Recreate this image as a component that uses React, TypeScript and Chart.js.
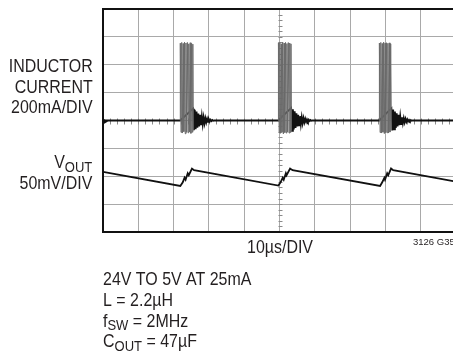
import { useEffect, useRef } from "react";
import { Chart, registerables } from "chart.js";

Chart.register(...registerables);

// ---- axes (oscilloscope graticule: 10 div x 8 div) ----
const timeMinUs = 0;
const timeMaxUs = 100; // 10µs/DIV
const timeStepUs = 10;
const currentMinMA = -800; // 200mA/DIV
const currentMaxMA = 800;
const currentStepMA = 200;
const voutMinMV = -100; // 50mV/DIV (AC coupled)
const voutMaxMV = 300;

// ---- inductor current: baseline + decaying ringing after each burst (µs, mA) ----
const ringTimeUs = [
  0, 21.85,
  25.5, 25.75, 26.0, 26.25, 26.5, 26.75, 27.0, 27.25, 27.5, 27.75, 28.0, 28.25, 28.5, 28.75,
  29.0, 29.25, 29.5, 29.75, 30.0, 30.25, 30.5, 30.75, 31.0, 31.25, 31.5, 31.75,
  49.65,
  53.3, 53.55, 53.8, 54.05, 54.3, 54.55, 54.8, 55.05, 55.3, 55.55, 55.8, 56.05, 56.3, 56.55,
  56.8, 57.05, 57.3, 57.55, 57.8, 58.05, 58.3, 58.55, 58.8, 59.05, 59.3, 59.55,
  78.25,
  81.7, 81.95, 82.2, 82.45, 82.7, 82.95, 83.2, 83.45, 83.7, 83.95, 84.2, 84.45, 84.7, 84.95,
  85.2, 85.45, 85.7, 85.95, 86.2, 86.45, 86.7, 86.95, 87.2, 87.45, 87.7, 87.95,
  100,
];
const ringCurrentMA = [
  0, 0,
  85, -70, 76, -62, 64, -52, 50, -42, 40, -34, 30, -27, 23, -20,
  16, -14, 12, -10, 8, -7, 5, -4, 3, -2, 1, 0,
  0,
  90, -74, 80, -64, 66, -54, 52, -43, 41, -35, 31, -27, 24, -20,
  17, -14, 12, -10, 8, -7, 5, -4, 3, -2, 1, 0,
  0,
  88, -72, 78, -63, 65, -53, 51, -43, 40, -34, 30, -26, 23, -19,
  16, -14, 12, -10, 8, -6, 5, -4, 3, -2, 1, 0,
  0,
];

// ---- inductor current: switching bursts (µs, mA), null separates bursts ----
const burstTimeUs = [
  21.85, 21.9, 22.1, 22.3, 22.5, 22.7, 22.9, 23.1, 23.3, 23.5, 23.7, 23.9, 24.1, 24.3,
  24.5, 24.7, 24.9, 25.1, 25.3, 25.45, 25.55,
  null,
  49.65, 49.7, 49.9, 50.1, 50.3, 50.5, 50.7, 50.9, 51.1, 51.3, 51.5, 51.7, 51.9, 52.1,
  52.3, 52.5, 52.7, 52.9, 53.1, 53.25, 53.35,
  null,
  78.25, 78.3, 78.5, 78.7, 78.9, 79.1, 79.3, 79.5, 79.7, 79.9, 80.1, 80.3, 80.5, 80.7,
  80.9, 81.1, 81.3, 81.5, 81.7,
];
const burstCurrentMA = [
  0, 555, -85, 560, -90, 552, -80, 562, -95, 556, -85, 560, -88, 550,
  -82, 558, -92, 553, -84, 548, -70,
  null,
  0, 558, -88, 560, -92, 550, -82, 562, -96, 555, -86, 560, -90, 552,
  -82, 559, -90, 556, -85, 550, -72,
  null,
  0, 556, -86, 560, -90, 552, -84, 562, -94, 555, -86, 558, -88, 554,
  -90, 557, -83, 550, -70,
];

// ---- output voltage ripple (µs, mV) ----
const voutTimeUs = [
  0, 21.9, 22.6, 23.1, 23.4, 24.0, 24.3, 25.2, 25.8,
  49.7, 50.3, 50.9, 51.2, 51.8, 52.0, 53.0, 53.7,
  78.5, 79.1, 79.7, 79.9, 80.5, 80.8, 81.6, 82.2,
  100,
];
const voutRippleMV = [
  8, -17.4, -10.8, -2.7, -6.3, 5.4, 1.8, 13.8, 10.8,
  -16.7, -10.8, -2.7, -6.3, 5.4, 1.8, 13.8, 10.8,
  -17.4, -10.8, -2.7, -6.3, 5.4, 1.8, 13.8, 10.8,
  -9.5,
];

const FONT = '"Liberation Sans", Arial, Helvetica, sans-serif';
const TEXT = "#231f20";
const GRID = "#a9a9a9";

type Part = { t: string; size: number; dy?: number };

function drawRuns(
  ctx: CanvasRenderingContext2D,
  parts: Part[],
  x: number,
  y: number,
  align: "left" | "right" | "center",
  sx: number
) {
  let total = 0;
  const widths = parts.map((p) => {
    ctx.font = `${p.size}px ${FONT}`;
    const w = ctx.measureText(p.t).width * sx;
    total += w;
    return w;
  });
  let cx = align === "left" ? x : align === "right" ? x - total : x - total / 2;
  parts.forEach((p, i) => {
    ctx.save();
    ctx.font = `${p.size}px ${FONT}`;
    ctx.textAlign = "left";
    ctx.textBaseline = "alphabetic";
    ctx.fillStyle = TEXT;
    ctx.translate(cx, y + (p.dy || 0));
    ctx.scale(sx, 1);
    ctx.fillText(p.t, 0, 0);
    ctx.restore();
    cx += widths[i];
  });
}

const scopePlugin = {
  id: "scope",
  beforeDatasetsDraw(chart: any) {
    const { ctx, chartArea } = chart;
    const { left, right, top, bottom } = chartArea;
    const xs = chart.scales.x;
    const ys = chart.scales.y;
    ctx.save();
    // minor ticks on the centre lines
    ctx.strokeStyle = "#8a8a8a";
    ctx.lineWidth = 1;
    const cx = Math.round(xs.getPixelForValue(50)) + 0.5;
    const cy = Math.round(ys.getPixelForValue(0)) + 0.5;
    ctx.beginPath();
    for (let v = currentMinMA; v <= currentMaxMA; v += currentStepMA / 5) {
      const py = Math.round(ys.getPixelForValue(v)) + 0.5;
      ctx.moveTo(cx - 2, py);
      ctx.lineTo(cx + 2, py);
    }
    for (let t = timeMinUs; t <= timeMaxUs; t += timeStepUs / 5) {
      const px = Math.round(xs.getPixelForValue(t)) + 0.5;
      ctx.moveTo(px, cy - 3);
      ctx.lineTo(px, cy + 3);
    }
    ctx.stroke();
    // frame
    ctx.fillStyle = "#111";
    ctx.fillRect(left - 1, top - 1, right - left + 2, 2);
    ctx.fillRect(left - 1, top - 1, 2, bottom - top + 2);
    ctx.fillRect(left - 1, bottom - 1, right - left + 2, 2);
    // channel marker
    ctx.beginPath();
    ctx.moveTo(left, cy - 3);
    ctx.lineTo(left + 5, cy);
    ctx.lineTo(left, cy + 3);
    ctx.closePath();
    ctx.fill();
    ctx.restore();
  },
  afterDraw(chart: any) {
    const { ctx } = chart;
    const sx = 0.84;
    const fs = 19;
    ctx.save();
    drawRuns(ctx, [{ t: "INDUCTOR", size: fs }], 92.7, 71.7, "right", sx);
    drawRuns(ctx, [{ t: "CURRENT", size: fs }], 92.7, 92.8, "right", sx);
    drawRuns(ctx, [{ t: "200mA/DIV", size: fs }], 92.7, 113.3, "right", sx);
    drawRuns(
      ctx,
      [
        { t: "V", size: fs },
        { t: "OUT", size: 15.5, dy: 3.4 },
      ],
      92.3,
      168.3,
      "right",
      sx
    );
    drawRuns(ctx, [{ t: "50mV/DIV", size: fs }], 92.3, 189.3, "right", sx);

    drawRuns(ctx, [{ t: "10µs/DIV", size: fs }], 280, 253.3, "center", sx);
    drawRuns(ctx, [{ t: "3126 G35", size: 9.5 }], 413, 245, "left", 1);

    drawRuns(ctx, [{ t: "24V TO 5V AT 25mA", size: fs }], 103, 284.8, "left", sx);
    drawRuns(ctx, [{ t: "L = 2.2µH", size: fs }], 103, 305.8, "left", sx);
    drawRuns(
      ctx,
      [
        { t: "f", size: fs },
        { t: "SW", size: 15.5, dy: 3.4 },
        { t: " = 2MHz", size: fs },
      ],
      103,
      326.6,
      "left",
      sx
    );
    drawRuns(
      ctx,
      [
        { t: "C", size: fs },
        { t: "OUT", size: 15.5, dy: 3.4 },
        { t: " = 47µF", size: fs },
      ],
      103,
      347.3,
      "left",
      sx
    );
    ctx.restore();
  },
};

function pts(xs: (number | null)[], ys: (number | null)[]) {
  return xs.map((x, i) => ({ x: x as number, y: ys[i] as number }));
}

export default function App() {
  const ref = useRef<HTMLCanvasElement | null>(null);

  useEffect(() => {
    if (!ref.current) return;
    const gridOpts = { color: GRID, lineWidth: 1, drawTicks: false };
    const chart = new Chart(ref.current, {
      type: "line",
      data: {
        datasets: [
          {
            label: "Switching bursts",
            data: pts(burstTimeUs, burstCurrentMA),
            borderColor: "#6a6a6a",
            borderWidth: 1,
            pointRadius: 0,
            spanGaps: false,
            yAxisID: "y",
            order: 0,
          },
          {
            label: "Inductor current",
            data: pts(ringTimeUs, ringCurrentMA),
            borderColor: "#111",
            borderWidth: 1.8,
            pointRadius: 0,
            yAxisID: "y",
            order: 1,
          },
          {
            label: "VOUT",
            data: pts(voutTimeUs, voutRippleMV),
            borderColor: "#111",
            borderWidth: 1.8,
            pointRadius: 0,
            yAxisID: "yV",
            order: 2,
          },
        ],
      },
      options: {
        animation: false,
        responsive: false,
        maintainAspectRatio: false,
        layout: { padding: { left: 103, top: 9, right: 14, bottom: 121 } },
        plugins: { legend: { display: false }, tooltip: { enabled: false } },
        elements: { line: { tension: 0 }, point: { radius: 0 } },
        scales: {
          x: {
            type: "linear",
            min: timeMinUs,
            max: timeMaxUs,
            ticks: { display: false, stepSize: timeStepUs },
            grid: gridOpts,
            border: { display: false },
          },
          y: {
            type: "linear",
            min: currentMinMA,
            max: currentMaxMA,
            ticks: { display: false, stepSize: currentStepMA },
            grid: gridOpts,
            border: { display: false },
          },
          yV: {
            type: "linear",
            display: false,
            min: voutMinMV,
            max: voutMaxMV,
          },
        },
      },
      plugins: [scopePlugin],
    } as any);
    return () => chart.destroy();
  }, []);

  return (
    <div
      style={{
        position: "fixed",
        left: 0,
        top: 0,
        width: 453,
        height: 353,
        overflow: "hidden",
        background: "#fff",
      }}
    >
      <canvas ref={ref} width={470} height={353} style={{ width: 470, height: 353, display: "block" }} />
    </div>
  );
}
